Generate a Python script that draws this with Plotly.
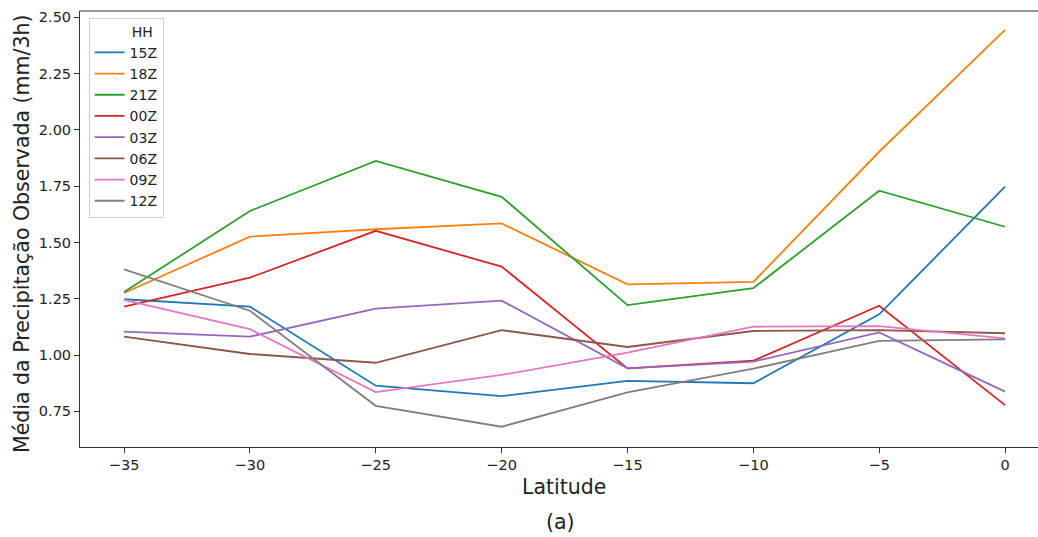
import plotly.graph_objects as go

# Latitude bins (degrees)
latitude = [-35, -30, -25, -20, -15, -10, -5, 0]

# Mean observed precipitation (mm/3h) per synoptic hour
hours = ["15Z", "18Z", "21Z", "00Z", "03Z", "06Z", "09Z", "12Z"]
p15z = [1.248, 1.215, 0.864, 0.818, 0.886, 0.875, 1.181, 1.748]
p18z = [1.276, 1.526, 1.559, 1.585, 1.314, 1.325, 1.903, 2.444]
p21z = [1.280, 1.640, 1.862, 1.703, 1.222, 1.297, 1.730, 1.570]
p00z = [1.215, 1.344, 1.552, 1.393, 0.941, 0.975, 1.219, 0.778]
p03z = [1.104, 1.082, 1.206, 1.242, 0.941, 0.971, 1.101, 0.838]
p06z = [1.082, 1.005, 0.966, 1.111, 1.036, 1.107, 1.111, 1.097]
p09z = [1.245, 1.115, 0.836, 0.912, 1.011, 1.126, 1.129, 1.074]
p12z = [1.381, 1.197, 0.775, 0.682, 0.835, 0.940, 1.063, 1.070]

series = [p15z, p18z, p21z, p00z, p03z, p06z, p09z, p12z]
colors = ["#1f77b4", "#ff7f0e", "#2ca02c", "#d62728",
          "#9467bd", "#8c564b", "#e377c2", "#7f7f7f"]

FONT = "DejaVu Sans"
AXIS_COLOR = "#333333"
TEXT_COLOR = "#222222"

fig = go.Figure()
for name, vals, col in zip(hours, series, colors):
    fig.add_trace(go.Scatter(
        x=latitude, y=vals, mode="lines", name=name,
        line=dict(color=col, width=1.8),
    ))

fig.update_layout(
    width=1038, height=537,
    margin=dict(l=80, r=0, t=11, b=90),
    paper_bgcolor="white", plot_bgcolor="white",
    font=dict(family=FONT, size=14, color=TEXT_COLOR),
    showlegend=True,
    legend=dict(
        title=dict(text="\u00a0" * 9 + "HH", side="top", font=dict(size=14)),
        x=0.009, y=0.985, xanchor="left", yanchor="top",
        bgcolor="rgba(255,255,255,0.9)", bordercolor="#d0d0d0", borderwidth=1,
        font=dict(size=14),
    ),
    xaxis=dict(
        range=[-36.75, 1.31], tickvals=latitude,
        showgrid=False, zeroline=False,
        showline=True, linecolor=AXIS_COLOR, linewidth=1,
        ticks="outside", ticklen=5, tickcolor=AXIS_COLOR,
        tickfont=dict(size=14.5),
    ),
    yaxis=dict(
        range=[0.592, 2.528], tickvals=[0.75, 1.0, 1.25, 1.5, 1.75, 2.0, 2.25, 2.5],
        tickformat=".2f",
        showgrid=False, zeroline=False,
        showline=True, linecolor=AXIS_COLOR, linewidth=1,
        ticks="outside", ticklen=5, tickcolor=AXIS_COLOR,
        tickfont=dict(size=14.5),
    ),
)

# Top frame line of the axes box
fig.add_shape(type="line", xref="paper", yref="paper",
              x0=0, x1=1, y0=1, y1=1,
              line=dict(color=AXIS_COLOR, width=1))

# Axis titles and panel label
fig.add_annotation(text="Latitude", xref="paper", yref="paper",
                   x=(564 - 80) / 958, y=-40 / 436, xanchor="center", yanchor="middle",
                   showarrow=False, font=dict(size=20.5, family=FONT))
fig.add_annotation(text="Média da Precipitação Observada (mm/3h)",
                   xref="paper", yref="paper",
                   x=-58 / 958, y=(447 - 234) / 436, xanchor="center", yanchor="middle",
                   textangle=-90, showarrow=False, font=dict(size=20.5, family=FONT))
fig.add_annotation(text="(a)", xref="paper", yref="paper",
                   x=(560 - 80) / 958, y=-75 / 436, xanchor="center", yanchor="middle",
                   showarrow=False, font=dict(size=20.5, family=FONT))

fig.write_html("out.html")
